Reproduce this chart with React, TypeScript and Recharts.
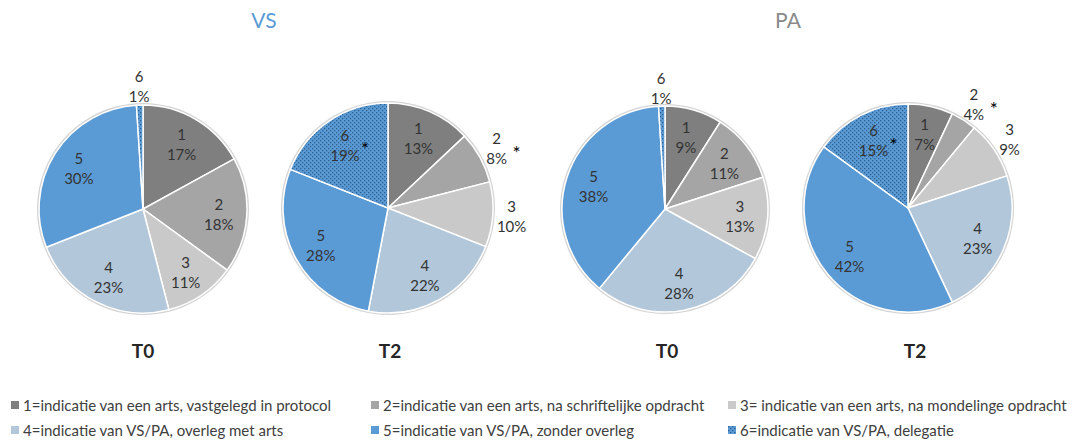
import React from "react";
import { PieChart, Pie, Cell } from "recharts";

const categories = ["1", "2", "3", "4", "5", "6"];
const legendLabels = [
  "1=indicatie van een arts, vastgelegd in protocol",
  "2=indicatie van een arts, na schriftelijke opdracht",
  "3= indicatie van een arts, na mondelinge opdracht",
  "4=indicatie van VS/PA, overleg met arts",
  "5=indicatie van VS/PA, zonder overleg",
  "6=indicatie van VS/PA, delegatie",
];
const vsT0 = [17, 18, 11, 23, 30, 1];
const vsT2 = [13, 8, 10, 22, 28, 19];
const paT0 = [9, 11, 13, 28, 38, 1];
const paT2 = [7, 4, 9, 23, 42, 15];
const groupTitles = ["VS", "PA"];
const timeLabels = ["T0", "T2", "T0", "T2"];
const ring = [{ value: 1 }];

const COLORS = ["#7f7f7f", "#a5a5a5", "#c9c9c9", "#b2c7d9", "#5b9bd5", "url(#dots)"];
const FONT = "Lato, 'Open Sans', sans-serif";

const toData = (vals: number[]) => categories.map((c, i) => ({ name: c, value: vals[i] }));

const charts = [
  { values: vsT0, cx: 138, cy: 204, r: 104, outside: [5], star: [] as number[] },
  { values: vsT2, cx: 383, cy: 203, r: 105, outside: [1, 2], star: [1, 5] },
  { values: paT0, cx: 660, cy: 204, r: 103, outside: [5], star: [] as number[] },
  { values: paT2, cx: 903, cy: 203, r: 104, outside: [1, 2], star: [1, 5] },
];

const RAD = Math.PI / 180;

const makeLabel = (chart: (typeof charts)[number]) => (props: any) => {
  const { cx, cy, midAngle, outerRadius, index, value } = props;
  const outside = chart.outside.includes(index);
  const rr = outerRadius * (outside ? 1.18 : 0.73);
  const x = cx + rr * Math.cos(-midAngle * RAD);
  const y = cy + rr * Math.sin(-midAngle * RAD);
  return (
    <g key={`lbl-${index}`}>
      <text x={x} y={y - 10} textAnchor="middle" dominantBaseline="central" fill="#333333" fontSize={15} fontFamily={FONT}>
        {categories[index]}
      </text>
      <text x={x} y={y + 10} textAnchor="middle" dominantBaseline="central" fill="#333333" fontSize={15} fontFamily={FONT}>
        {`${value}%`}
      </text>
      {chart.star.includes(index) && (
        <text x={x + 20} y={y + 4} textAnchor="middle" dominantBaseline="central" fill="#000" fontSize={19} fontFamily={FONT}>
          *
        </text>
      )}
    </g>
  );
};

const titlePos = [264, 788];
const timePos = [143, 390, 667, 915];
const legendCols = [11, 371, 728];
const legendRows = [405, 430];

export default function App() {
  return (
    <div style={{ position: "absolute", left: 0, top: 0, width: 1080, height: 441, background: "#fff", fontFamily: FONT }}>
      <svg width={0} height={0} style={{ position: "absolute" }}>
        <defs>
          <pattern id="dots" width={4} height={4} patternUnits="userSpaceOnUse">
            <rect width={4} height={4} fill="#5b9bd5" />
            <rect x={0} y={0} width={1.3} height={1.3} fill="#2f5f8f" />
            <rect x={2} y={2} width={1.3} height={1.3} fill="#2f5f8f" />
          </pattern>
        </defs>
      </svg>
      <PieChart width={1080} height={441} style={{ position: "absolute", left: 0, top: 0 }}>
        {charts.map((c, ci) => (
          <Pie
            key={`ring-${ci}`}
            data={ring}
            dataKey="value"
            cx={c.cx}
            cy={c.cy}
            outerRadius={c.r + 2}
            fill="#d4d4d4"
            stroke="none"
            isAnimationActive={false}
            label={false}
            labelLine={false}
          />
        ))}
        {charts.map((c, ci) => (
          <Pie
            key={`pie-${ci}`}
            data={toData(c.values)}
            dataKey="value"
            nameKey="name"
            cx={c.cx}
            cy={c.cy}
            outerRadius={c.r}
            startAngle={90}
            endAngle={-270}
            stroke="#ffffff"
            strokeWidth={1.5}
            isAnimationActive={false}
            labelLine={false}
            label={makeLabel(c)}
          >
            {categories.map((cat, i) => (
              <Cell key={cat} fill={COLORS[i]} />
            ))}
          </Pie>
        ))}
      </PieChart>
      {groupTitles.map((t, i) => (
        <div
          key={t}
          style={{
            position: "absolute",
            left: titlePos[i] - 40,
            width: 80,
            top: 6,
            textAlign: "center",
            fontSize: 21,
            lineHeight: "28px",
            color: i === 0 ? "#5b9bd5" : "#8a8a8a",
          }}
        >
          {t}
        </div>
      ))}
      {timeLabels.map((t, i) => (
        <div
          key={`t-${i}`}
          style={{
            position: "absolute",
            left: timePos[i] - 40,
            width: 80,
            top: 338,
            textAlign: "center",
            fontSize: 19,
            fontWeight: 700,
            lineHeight: "26px",
            color: "#262626",
          }}
        >
          {t}
        </div>
      ))}
      {legendLabels.map((l, i) => {
        const col = i % 3;
        const row = Math.floor(i / 3);
        return (
          <div
            key={l}
            style={{
              position: "absolute",
              left: legendCols[col],
              top: legendRows[row] - 11,
              height: 22,
              display: "flex",
              alignItems: "center",
              whiteSpace: "nowrap",
              fontSize: 15,
              color: "#404040",
            }}
          >
            <svg width={8} height={8} style={{ marginRight: 4 }}>
              <rect width={8} height={8} fill={COLORS[i]} />
            </svg>
            <span>{l}</span>
          </div>
        );
      })}
    </div>
  );
}
